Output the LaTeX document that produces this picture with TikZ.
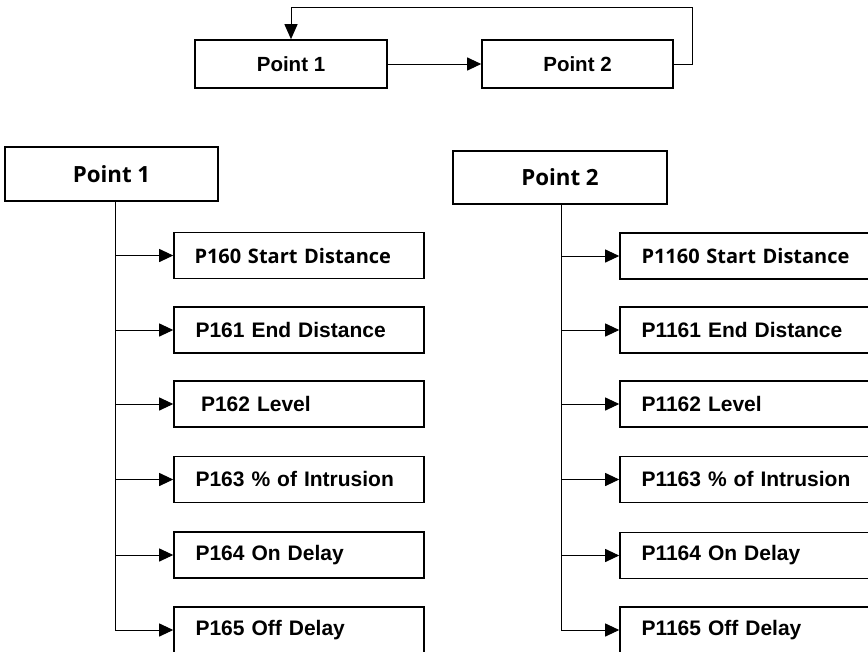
\documentclass[tikz,border=0pt]{standalone}
\usepackage{fontspec}
\usetikzlibrary{arrows.meta}
\newfontfamily\arialfont{Liberation Sans}
\newfontfamily\openfont{Open Sans}
\begin{document}
\begin{tikzpicture}[x=1pt,y=-1pt,
  box/.style={draw,line width=1.6pt,rectangle,inner sep=0pt},
  topbox/.style={box,minimum width=192pt,minimum height=48pt,
    font=\arialfont\bfseries\fontsize{20.5}{24}\selectfont},
  headbox/.style={box,minimum width=213pt,minimum height=54pt,
    font=\openfont\bfseries\fontsize{22.3}{26}\selectfont},
  leaf/.style={box,minimum width=250pt,minimum height=46pt,
    text width=250pt,align=left,inner xsep=0pt,
    font=\arialfont\bfseries\fontsize{21}{25}\selectfont},
  leafo/.style={leaf,font=\openfont\bfseries\fontsize{20}{24}\selectfont},
  conn/.style={line width=1pt},
  arr/.style={conn,-{Triangle[length=14pt,width=13pt]}}
]
\useasboundingbox (0,0) rectangle (868,651);
\begin{scope}
\clip (0,0) rectangle (868,651);
\fill[white] (0,0) rectangle (868,651);

% top cycle
\node[topbox] (p1) at (291,64) {Point 1};
\node[topbox,minimum width=191pt] (p2) at (577.5,64) {Point 2};
\coordinate (fb) at (692,7);
\draw[arr] (p1.east) -- (p2.west);
\draw[conn,-{Triangle[length=15pt,width=13pt]}] (p2.east) -| (fb) -| (p1.north);

% left tree
\node[headbox] (L) at (111.5,174) {Point 1};
\coordinate (lt) at (115,201);
\node[leafo] (l1) at (299,255.5) {\hspace*{20.5pt}P160 Start Distance};
\node[leaf] (l2) at (299,330) {\hspace*{21.5pt}P161 End Distance};
\node[leaf] (l3) at (299,404) {\hspace*{27pt}P162 Level};
\node[leaf] (l4) at (299,479.5) {\hspace*{21.5pt}P163 \% of Intrusion};
\node[leaf] (l5) at (299,555) {\hspace*{21.5pt}P164 On Delay};
\node[leaf] (l6) at (299,630) {\hspace*{21.5pt}P165 Off Delay};
\draw[arr] (lt) -- (lt |- l6.west) -- (l6.west);
\foreach \n in {l1,l2,l3,l4,l5} \draw[arr] (lt |- \n.west) -- (\n.west);

% right tree
\node[headbox,minimum width=214pt,minimum height=53pt] (R) at (560,177.5) {Point 2};
\coordinate (rt) at (561,204);
\node[leafo] (r1) at (745,256) {\hspace*{21.5pt}P1160 Start Distance};
\node[leaf] (r2) at (745,330) {\hspace*{21.5pt}P1161 End Distance};
\node[leaf] (r3) at (745,404) {\hspace*{21.5pt}P1162 Level};
\node[leaf] (r4) at (745,479.5) {\hspace*{21.5pt}P1163 \% of Intrusion};
\node[leaf] (r5) at (745,555.5) {\hspace*{21.5pt}P1164 On Delay};
\node[leaf] (r6) at (745,630) {\hspace*{21.5pt}P1165 Off Delay};
\draw[arr] (rt) -- (rt |- r6.west) -- (r6.west);
\foreach \n in {r1,r2,r3,r4,r5} \draw[arr] (rt |- \n.west) -- (\n.west);
\end{scope}
\end{tikzpicture}
\end{document}
